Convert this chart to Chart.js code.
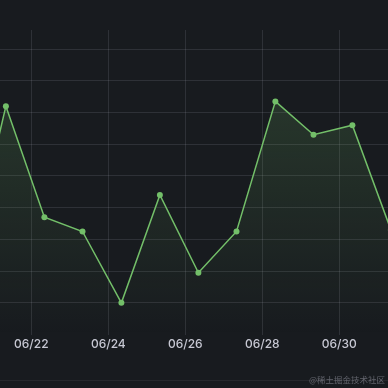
<!DOCTYPE html>
<html>
<head>
<meta charset="utf-8">
<script src="https://cdn.jsdelivr.net/npm/chart.js@4"></script>
<style>
  html, body { margin: 0; padding: 0; background: #181b1f; }
  #wrap { position: relative; width: 388px; height: 380px; border-bottom: 1px solid rgba(204, 204, 220, 0.08); }
  #mark { position: absolute; right: 3px; top: 374px; font: 8.5px "Noto Sans CJK SC", sans-serif; line-height: 11px; color: rgba(204, 204, 220, 0.4); white-space: nowrap; }
</style>
</head>
<body>
<div id="wrap"><canvas id="chart"></canvas></div>
<div id="mark">@稀土掘金技术社区</div>
<script>
// jour de juin (avec l'heure du relevé) et valeurs
var jours = [20.34, 21.34, 22.34, 23.33, 24.34, 25.34, 26.34, 27.33, 28.34, 29.33, 30.34, 31.34];
var valeurs = [40, 144, 74, 65, 20, 88, 39, 65, 147, 126, 132, 66];
// graduations de l'axe x
var joursTicks = [22, 24, 26, 28, 30];
var libellesTicks = ['06/22', '06/24', '06/26', '06/28', '06/30'];
// lignes horizontales de la grille
var grilleY = [20, 40, 60, 80, 100, 120, 140, 160, 180];

var vert = '#73bf69';

var ctx = document.getElementById('chart').getContext('2d');
var chart = new Chart(ctx, {
  type: 'line',
  data: {
    datasets: [{
      data: jours.map(function (j, i) { return { x: j, y: valeurs[i] }; }),
      borderColor: vert,
      borderWidth: 1.5,
      pointRadius: 3,
      pointBorderWidth: 0,
      pointBackgroundColor: vert,
      tension: 0,
      fill: 'start',
      backgroundColor: function (c) {
        var area = c.chart.chartArea;
        if (!area) return 'rgba(115,191,105,0.15)';
        var g = c.chart.ctx.createLinearGradient(0, area.top, 0, area.bottom);
        g.addColorStop(0, 'rgba(115,191,105,0.22)');
        g.addColorStop(1, 'rgba(115,191,105,0)');
        return g;
      }
    }]
  },
  options: {
    responsive: true,
    maintainAspectRatio: false,
    animation: false,
    layout: { autoPadding: false, padding: { top: 30, bottom: 25, left: 0, right: 0 } },
    plugins: { legend: { display: false }, tooltip: { enabled: false } },
    scales: {
      x: {
        type: 'linear',
        min: 21.187,
        max: 31.265,
        afterBuildTicks: function (axis) {
          axis.ticks = joursTicks.map(function (v) { return { value: v }; });
        },
        ticks: {
          padding: 3,
          color: '#c7c8d3',
          font: { family: 'Inter', size: 12, weight: '500' },
          maxRotation: 0,
          callback: function (v) { return libellesTicks[joursTicks.indexOf(v)]; }
        },
        grid: { color: 'rgba(204,204,220,0.13)', drawTicks: false },
        border: { display: false }
      },
      y: {
        min: 0,
        max: 192,
        afterBuildTicks: function (axis) {
          axis.ticks = grilleY.map(function (v) { return { value: v }; });
        },
        afterFit: function (axis) { axis.width = 0; },
        ticks: { display: false },
        grid: { color: 'rgba(204,204,220,0.13)', drawTicks: false },
        border: { display: false }
      }
    }
  }
});
</script>
</body>
</html>
